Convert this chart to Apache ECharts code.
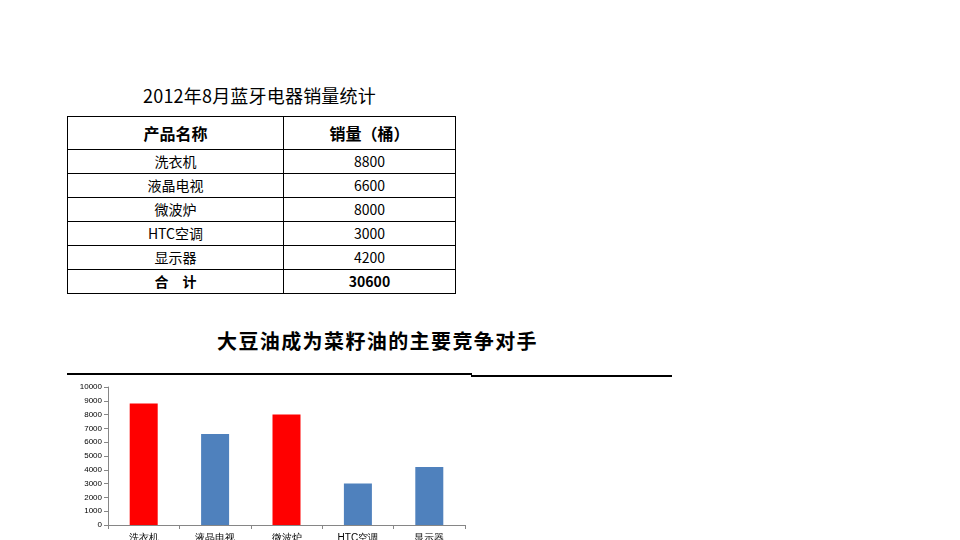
<!DOCTYPE html>
<html lang="zh">
<head>
<meta charset="UTF-8">
<title>2012年8月蓝牙电器销量统计</title>
<style>
    html, body { margin: 0; padding: 0; width: 960px; height: 540px; overflow: hidden; background: #fff; }
    body { position: relative; font-family: "Noto Sans CJK SC", "DejaVu Sans", sans-serif; color: #000; }
    #tableTitle { position: absolute; left: 65px; top: 82px; width: 389px; text-align: center; font-size: 18px; letter-spacing: 0.2px; }
    #salesTable { position: absolute; left: 67px; top: 116px; width: 389px; border-collapse: collapse; }
    #salesTable td, #salesTable th { border: 1px solid #000; text-align: center; padding: 0; font-size: 14px; font-weight: normal; line-height: 20px; }
    #salesTable td { height: 21px; padding-bottom: 2px; }
    #salesTable th { height: 32px; font-size: 16px; font-weight: bold; }
    #salesTable td:first-child, #salesTable th:first-child { width: 215px; }
    #salesTable tr.total td { font-weight: bold; }
    #chartTitle { position: absolute; left: 75px; top: 326px; width: 605px; text-align: center; font-size: 20px; letter-spacing: 1.4px; font-weight: bold; }
    .rule { position: absolute; background: #000; }
    #chart { position: absolute; left: 60px; top: 380px; width: 420px; height: 180px; }
</style>
<script src="https://cdn.jsdelivr.net/npm/echarts@6/dist/echarts.min.js"></script>
</head>
<body>
    <div id="tableTitle">2012年8月蓝牙电器销量统计</div>
    <table id="salesTable"></table>

    <div id="chartTitle">大豆油成为菜籽油的主要竞争对手</div>
    <div class="rule" style="left:67px;top:373px;width:405px;height:2px;"></div>
    <div class="rule" style="left:471px;top:375px;width:201px;height:2px;"></div>

    <div id="chart"></div>

<script>
// 数据
var products = ['洗衣机', '液晶电视', '微波炉', 'HTC空调', '显示器'];
var sales = [8800, 6600, 8000, 3000, 4200];
var highlighted = ['洗衣机', '微波炉'];
var tableHeader = ['产品名称', '销量（桶）'];
var totalLabel = '合\u3000计';

// 表格
var html = '<tr><th>' + tableHeader[0] + '</th><th>' + tableHeader[1] + '</th></tr>';
var total = 0;
for (var i = 0; i < products.length; i++) {
    html += '<tr><td>' + products[i] + '</td><td>' + sales[i] + '</td></tr>';
    total += sales[i];
}
html += '<tr class="total"><td>' + totalLabel + '</td><td>' + total + '</td></tr>';
document.getElementById('salesTable').innerHTML = html;

// 柱状图
var myChart = echarts.init(document.getElementById('chart'));
var option = {
    animation: false,
    grid: { left: 48, top: 7, right: 15, bottom: 35 },
    xAxis: {
        type: 'category',
        data: products,
        axisLine: { lineStyle: { color: '#868686', width: 1 } },
        axisTick: { show: true, alignWithLabel: false, length: 4, lineStyle: { color: '#868686' } },
        axisLabel: { fontSize: 10, color: '#000', margin: 8, interval: 0 }
    },
    yAxis: {
        type: 'value',
        min: 0,
        max: 10000,
        interval: 1000,
        axisLine: { show: true, lineStyle: { color: '#868686', width: 1 } },
        axisTick: { show: true, length: 4, lineStyle: { color: '#868686' } },
        axisLabel: { fontSize: 8, color: '#000', margin: 6, formatter: function (v) { return String(v); } },
        splitLine: { show: false }
    },
    series: [{
        type: 'bar',
        barWidth: 28,
        data: products.map(function (p, i) {
            return {
                value: sales[i],
                itemStyle: { color: highlighted.indexOf(p) >= 0 ? '#ff0000' : '#4f81bd' }
            };
        })
    }]
};
myChart.setOption(option);
</script>
</body>
</html>
